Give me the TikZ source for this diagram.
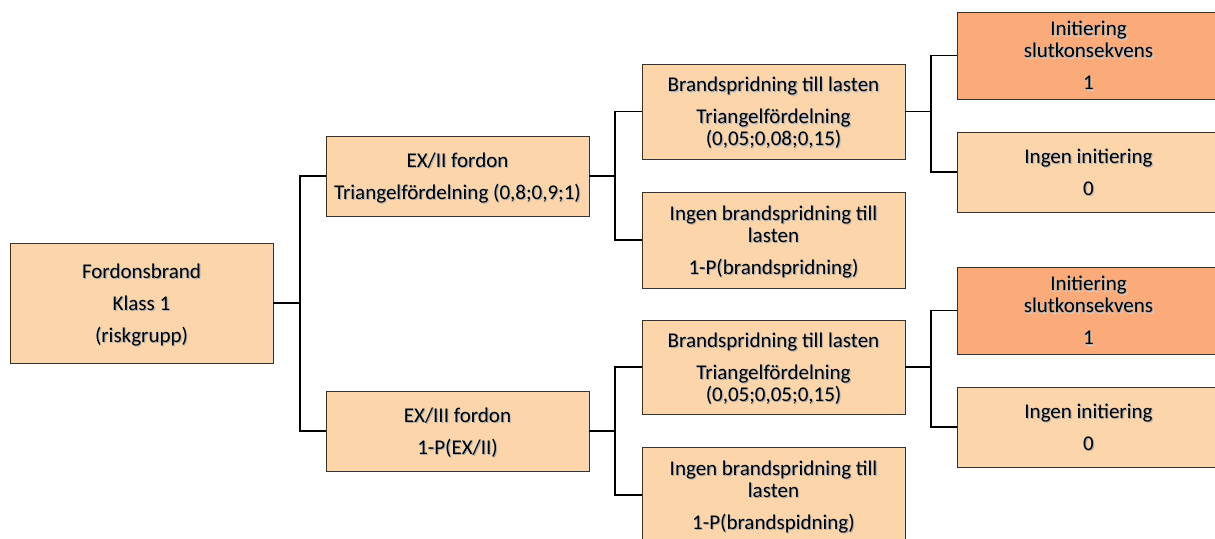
\documentclass[tikz,border=0pt]{standalone}
\usepackage{fontspec}
\setmainfont{Carlito}
\definecolor{lightfill}{HTML}{FCD5AA}
\definecolor{darkfill}{HTML}{FBAB79}
% \treebox{style}{name}{centre}{height}{text}: a box, then its text with a soft drop shadow
\newcommand\treebox[5]{%
  \node[#1, minimum height=#4pt] (#2) at #3 {};
  \node[label text, text=black!18] at ([xshift=1.6pt,yshift=-1.6pt]#2.center) {#5};
  \node[label text, text=black!32] at ([xshift=0.9pt,yshift=-0.9pt]#2.center) {#5};
  \node[label text] at (#2.center) {#5};
}
\begin{document}
\begin{tikzpicture}[x=1pt,y=-1pt,
  box/.style={draw=black!80, line width=0.8pt, fill=lightfill, minimum width=263pt, inner sep=0pt},
  hot/.style={box, fill=darkfill},
  label text/.style={inner sep=0pt, text depth=0pt, align=center,
    font=\fontsize{21}{22}\selectfont, text=black},
  link/.style={draw=black, line width=1.3pt}]
\useasboundingbox (0,0) rectangle (1215,538);

% level 0
\treebox{box}{root}{(141.5,303)}{120}{Fordonsbrand\\[10pt]Klass 1\\[10pt](riskgrupp)}

% level 1
\treebox{box}{exii}{(457.5,176)}{80}{EX/II fordon\\[10pt]Triangelfördelning (0,8;0,9;1)}
\treebox{box}{exiii}{(457.5,431)}{80}{EX/III fordon\\[10pt]1-P(EX/II)}

% level 2
\treebox{box}{br1}{(773.5,111.5)}{95}{Brandspridning till lasten\\[10pt]Triangelfördelning\\(0,05;0,08;0,15)}
\treebox{box}{nb1}{(773.5,240)}{96}{Ingen brandspridning till\\lasten\\[10pt]1-P(brandspridning)}
\treebox{box}{br2}{(773.5,367)}{94}{Brandspridning till lasten\\[10pt]Triangelfördelning\\(0,05;0,05;0,15)}
\treebox{box}{nb2}{(773.5,495)}{96}{Ingen brandspridning till\\lasten\\[10pt]1-P(brandspidning)}

% level 3
\treebox{hot}{in1}{(1088.5,55.5)}{87}{Initiering\\slutkonsekvens\\[10pt]1}
\treebox{box}{ni1}{(1088.5,172)}{80}{Ingen initiering\\[10pt]0}
\treebox{hot}{in2}{(1088.5,310.5)}{87}{Initiering\\slutkonsekvens\\[10pt]1}
\treebox{box}{ni2}{(1088.5,427)}{80}{Ingen initiering\\[10pt]0}

% fork points
\coordinate (f0) at (300,303);
\coordinate (f1) at (615,176);
\coordinate (f2) at (615,431);
\coordinate (f3) at (931,111.5);
\coordinate (f4) at (931,367);

% connectors
\draw[link] (root.east) -- (f0);
\draw[link] (f0) |- (exii.west);
\draw[link] (f0) |- (exiii.west);
\draw[link] (exii.east) -- (f1);
\draw[link] (f1) |- (br1.west);
\draw[link] (f1) |- (nb1.west);
\draw[link] (exiii.east) -- (f2);
\draw[link] (f2) |- (br2.west);
\draw[link] (f2) |- (nb2.west);
\draw[link] (br1.east) -- (f3);
\draw[link] (f3) |- (in1.west);
\draw[link] (f3) |- (ni1.west);
\draw[link] (br2.east) -- (f4);
\draw[link] (f4) |- (in2.west);
\draw[link] (f4) |- (ni2.west);
\end{tikzpicture}
\end{document}
